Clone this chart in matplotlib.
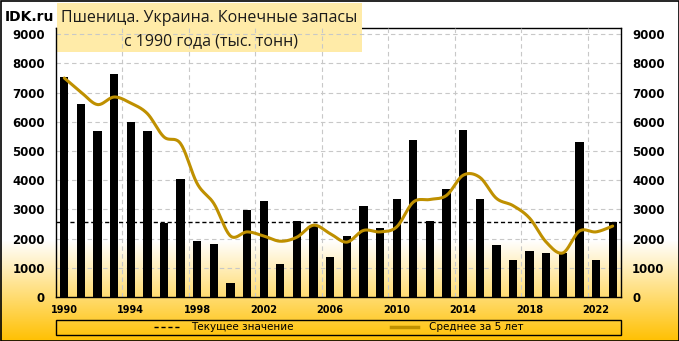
import matplotlib
matplotlib.use('Agg')
import matplotlib.pyplot as plt
import numpy as np
from matplotlib.patches import Rectangle
from matplotlib.lines import Line2D

# data
years = list(range(1990, 2024))
stocks = [7530, 6600, 5670, 7630, 6000, 5700, 2530, 4030, 1910, 1820,
          470, 2970, 3280, 1120, 2590, 2430, 1360, 2080, 3110, 2350,
          3350, 5370, 2590, 3690, 5710, 3350, 1770, 1260, 1560, 1500,
          1490, 5300, 1260, 2560]
avg5 = [7500, 7020, 6590, 6850, 6640, 6280, 5480, 5250, 3880, 3200,
        2090, 2230, 2090, 1910, 2050, 2460, 2170, 1880, 2280, 2230,
        2400, 3250, 3340, 3480, 4170, 4100, 3380, 3130, 2700, 1880,
        1510, 2260, 2230, 2430]
current = stocks[-1]
title1 = 'Пшеница. Украина. Конечные запасы'
title2 = 'с 1990 года (тыс. тонн)'
leg_labels = ['Текущее значение', 'Среднее за 5 лет']

W, H = 679, 341
gold = '#BF9000'
grid_c = '#C8C8C8'


# excel-like smoothed line (bezier through the points)
def smooth(xv, yv, n=20):
    p = np.column_stack([xv, yv]).astype(float)
    p = np.vstack([p[0], p, p[-1]])
    out = []
    t = np.linspace(0, 1, n, endpoint=False)[:, None]
    for i in range(1, len(p) - 2):
        p0, p1, p2, p3 = p[i - 1], p[i], p[i + 1], p[i + 2]
        c1 = p1 + (p2 - p0) / 6
        c2 = p2 - (p3 - p1) / 6
        out.append((1 - t)**3 * p1 + 3 * (1 - t)**2 * t * c1
                   + 3 * (1 - t) * t**2 * c2 + t**3 * p2)
    out.append(p[-2][None, :])
    pts = np.vstack(out)
    return pts[:, 0], pts[:, 1]


fig = plt.figure(figsize=(W / 100, H / 100), dpi=100)

# background gradient white -> yellow at the bottom
bg = fig.add_axes([0, 0, 1, 1], zorder=-10)
tt = np.clip((np.arange(H) - 240) / (H - 240), 0, 1)[:, None]
top = np.array([1.0, 1.0, 1.0])
bot = np.array([255, 192, 0]) / 255
img = top * (1 - tt) + bot * tt
bg.imshow(img[:, None, :], aspect='auto', extent=[0, 1, 0, 1])
bg.axis('off')

ax = fig.add_axes([56 / W, 1 - 297 / H, (621 - 56) / W, (297 - 27.5) / H])
ax.set_facecolor('none')

x = np.arange(len(years))
ax.bar(x, stocks, width=0.5, color='black', zorder=2)
ax.axhline(current, color='black', ls=(0, (3, 2)), lw=1, zorder=3)
sx, sy = smooth(x, avg5)
ax.plot(sx, sy, color=gold, lw=2.2, zorder=4, solid_capstyle='round')

ymax = 9230
ax.set_xlim(-0.5, len(years) - 0.5)
ax.set_ylim(0, ymax)
ax.set_yticks(range(0, 9001, 1000))
ax.set_xticks(x[::4])
ax.set_xticklabels([str(y) for y in years[::4]])
ax.set_xticks(np.arange(3.5, len(years) - 1, 4), minor=True)

ax.set_axisbelow(True)
ax.grid(axis='y', which='major', color=grid_c, ls=(0, (4, 3)), lw=0.8)
ax.grid(axis='x', which='minor', color=grid_c, ls=(0, (4, 3)), lw=0.8)
ax.tick_params(which='both', length=0)
ax.tick_params(axis='y', labelright=True, labelsize=8.5, pad=8)
ax.tick_params(axis='x', labelsize=7, pad=6)
for lab in ax.get_yticklabels() + ax.get_xticklabels():
    lab.set_fontweight('bold')
for s in ['left', 'right', 'bottom']:
    ax.spines[s].set_color('black')
    ax.spines[s].set_linewidth(1)
ax.spines['top'].set_visible(False)
ax.axhline(ymax, color='black', lw=1, zorder=0.3, clip_on=False)

# title box (covers the top border, grid stays visible)
ax.add_patch(Rectangle((57 / W, 1 - 52 / H), (362 - 57) / W, 49 / H,
                       transform=fig.transFigure, clip_on=False,
                       facecolor='#FFEBA8', edgecolor='none', zorder=0.4))
fig.text(209 / W, 1 - 18 / H, title1, ha='center', va='center',
         fontsize=11.5, family='Open Sans', color='#1a1a1a')
fig.text(211 / W, 1 - 41 / H, title2, ha='center', va='center',
         fontsize=11.5, family='Open Sans', color='#1a1a1a')
fig.text(5 / W, 1 - 17 / H, 'IDK.ru', ha='left', va='center',
         fontsize=10, fontweight='bold')

# legend
fig.add_artist(Rectangle((56 / W, 1 - 335 / H), 565 / W, 15 / H,
                         transform=fig.transFigure, fill=False,
                         edgecolor='black', lw=1))
handles = [Line2D([], [], color='black', ls=(0, (3, 2)), lw=1),
           Line2D([], [], color=gold, lw=2.5)]
fig.legend(handles, leg_labels, loc='center', ncol=2, frameon=False,
           bbox_to_anchor=(338.5 / W, 1 - 327.5 / H), fontsize=7.5,
           handlelength=2.5, handletextpad=1.1, columnspacing=9.4,
           borderpad=0)

# outer border
fig.add_artist(Rectangle((0.5 / W, 0.5 / H), 1 - 1 / W, 1 - 1 / H,
                         transform=fig.transFigure, fill=False,
                         edgecolor='black', lw=1.2))

fig.savefig('out.png', dpi=100)
